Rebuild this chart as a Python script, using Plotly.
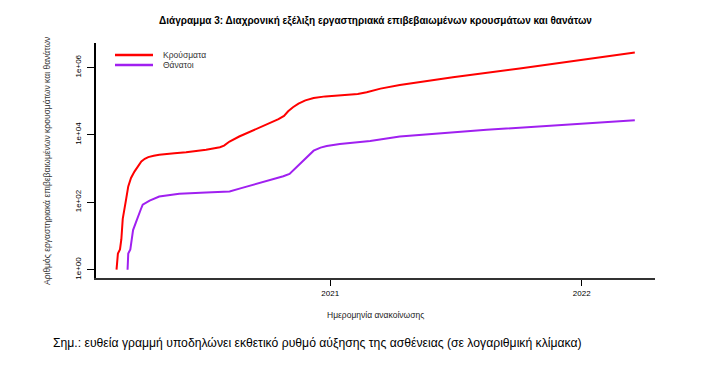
import plotly.graph_objects as go

# ---- data ----
case_dates = ["2020-02-26", "2020-02-28", "2020-03-02", "2020-03-04", "2020-03-06",
              "2020-03-08", "2020-03-11", "2020-03-14", "2020-03-18", "2020-03-23",
              "2020-03-28", "2020-04-02", "2020-04-07", "2020-04-12", "2020-04-20",
              "2020-04-28", "2020-05-20", "2020-06-06", "2020-07-05", "2020-07-25",
              "2020-07-31", "2020-08-08", "2020-08-22", "2020-09-25", "2020-10-18",
              "2020-10-26", "2020-11-01", "2020-11-08", "2020-11-16", "2020-11-26",
              "2020-12-08", "2020-12-25", "2021-01-15", "2021-02-10", "2021-02-23",
              "2021-03-15", "2021-04-12", "2021-06-28", "2021-10-03", "2022-01-08",
              "2022-03-19"]
cases = [1, 3, 4, 8, 32, 63, 126, 295, 525, 813, 1175, 1622, 1950, 2188, 2399,
         2570, 2818, 3020, 3631, 4266, 4786, 6310, 8913, 17783, 29000, 36308,
         50000, 66000, 84000, 105000, 123027, 138038, 147911, 162181, 181970,
         234423, 301995, 512861, 933254, 1737801, 2754229]

death_dates = ["2020-03-13", "2020-03-14", "2020-03-17", "2020-03-19", "2020-03-21",
               "2020-03-25", "2020-03-28", "2020-04-01", "2020-04-04", "2020-04-09",
               "2020-04-14", "2020-04-28", "2020-05-27", "2020-07-05", "2020-08-08",
               "2020-08-25", "2020-09-11", "2020-10-10", "2020-10-25", "2020-11-03",
               "2020-11-10", "2020-11-18", "2020-11-28", "2020-12-08", "2020-12-18",
               "2020-12-27", "2021-01-15", "2021-02-28", "2021-04-12", "2021-08-16",
               "2022-03-19"]
deaths = [1, 3, 4, 7, 15, 25, 38, 60, 85, 100, 112, 148, 178, 195, 209, 263, 331,
          468, 589, 692, 955, 1445, 2291, 3388, 4169, 4677, 5370, 6607, 8913,
          14125, 26915]

x_tickvals = ["2021-01-01", "2022-01-01"]
x_ticktext = ["2021", "2022"]
y_tickvals = [1, 100, 10000, 1000000]
y_ticktext = ["1e+00", "1e+02", "1e+04", "1e+06"]

series_names = ["Κρούσματα", "Θάνατοι"]
series_colors = ["#FF0000", "#A020F0"]

FONT = "Liberation Sans"

# page body has an 8px margin: work in screen pixels, then offset
OFF = 8
W, H = 719 - 2 * OFF, 376 - 2 * OFF
L, R, T, B = 96 - OFF, 655 - OFF, 43 - OFF, 278 - OFF


def px(x):
    return (x - OFF - L) / (R - L)


def py(y):
    return (B - (y - OFF)) / (B - T)


fig = go.Figure()
fig.add_trace(go.Scatter(x=case_dates, y=cases, mode="lines", name=series_names[0],
                         line=dict(color=series_colors[0], width=2)))
fig.add_trace(go.Scatter(x=death_dates, y=deaths, mode="lines", name=series_names[1],
                         line=dict(color=series_colors[1], width=2)))

fig.update_layout(
    width=W, height=H,
    margin=dict(l=L, r=W - R, t=T, b=H - B),
    paper_bgcolor="white", plot_bgcolor="white",
    font=dict(family=FONT, size=8, color="black"),
    title=dict(text="<b>Διάγραμμα 3: Διαχρονική εξέλιξη εργαστηριακά επιβεβαιωμένων κρουσμάτων και θανάτων</b>",
               x=(375.5 - OFF) / W, xanchor="center",
               y=1 - (20 - OFF) / H, yanchor="middle",
               font=dict(family=FONT, size=10, color="black")),
    showlegend=False,
    xaxis=dict(type="date", range=["2020-01-27 05:00", "2022-04-17 07:00"],
               tickvals=x_tickvals, ticktext=x_ticktext, automargin=False,
               showgrid=False, zeroline=False,
               showline=True, linecolor="#333333", linewidth=2,
               ticks="outside", ticklen=6, tickcolor="black", tickwidth=1,
               tickfont=dict(size=8, color="black")),
    yaxis=dict(type="log", range=[-0.246, 6.723], automargin=False,
               tickvals=y_tickvals, ticktext=y_ticktext, tickangle=-90,
               showgrid=False, zeroline=False,
               showline=True, linecolor="black", linewidth=1.5,
               ticks="outside", ticklen=7, tickcolor="black", tickwidth=1,
               ticklabelstandoff=3,
               tickfont=dict(size=8, color="black")),
)

# axis titles
fig.add_annotation(text="Ημερομηνία ανακοίνωσης", xref="paper", yref="paper",
                   x=px(375), y=py(315), xanchor="center", yanchor="middle",
                   showarrow=False, font=dict(size=8.5, color="#222222"))
fig.add_annotation(text="Αριθμός εργαστηριακά επιβεβαιωμένων κρουσμάτων και θανάτων",
                   xref="paper", yref="paper", x=px(47), y=py(161),
                   xanchor="center", yanchor="middle", textangle=-90,
                   showarrow=False, font=dict(size=8.5, color="#333333"))

# legend (drawn manually to match compact spacing)
for i, (name, col) in enumerate(zip(series_names, series_colors)):
    yy = 55 + 10 * i
    fig.add_shape(type="line", xref="paper", yref="paper",
                  x0=px(115), x1=px(153), y0=py(yy), y1=py(yy),
                  line=dict(color=col, width=2.5))
    fig.add_annotation(text=name, xref="paper", yref="paper", x=px(161),
                       y=py(yy), xanchor="left", yanchor="middle",
                       showarrow=False, font=dict(size=8.5, color="#333333"))

fig.add_annotation(text="Σημ.: ευθεία γραμμή υποδηλώνει εκθετικό ρυθμό αύξησης της ασθένειας (σε λογαριθμική κλίμακα)",
                   xref="paper", yref="paper", x=px(51), xanchor="left",
                   y=py(343), yanchor="middle", showarrow=False,
                   font=dict(family=FONT, size=12.2, color="black"))

fig.write_html("out.html")
